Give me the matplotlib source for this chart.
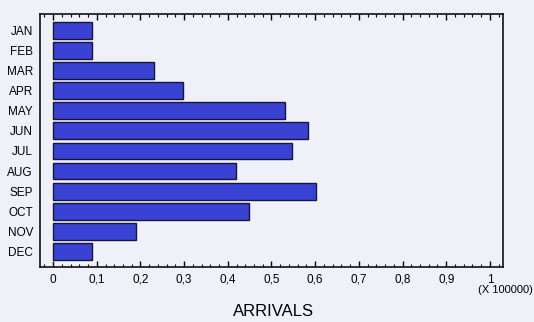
import matplotlib
matplotlib.use("Agg")
import matplotlib.pyplot as plt
from matplotlib.ticker import MultipleLocator, FuncFormatter

months = ["JAN", "FEB", "MAR", "APR", "MAY", "JUN", "JUL", "AUG", "SEP", "OCT", "NOV", "DEC"]
arrivals = [0.089, 0.089, 0.231, 0.297, 0.531, 0.584, 0.548, 0.419, 0.603, 0.449, 0.190, 0.090]
xticks = [0, 0.1, 0.2, 0.3, 0.4, 0.5, 0.6, 0.7, 0.8, 0.9, 1.0]

plt.rcParams['font.family'] = ['Liberation Sans', 'DejaVu Sans']
bg = '#f0f1f8'
fig = plt.figure(figsize=(5.34, 3.22), dpi=100, facecolor=bg)
ax = fig.add_axes([40/534, 1-267/322, 463/534, 253/322], facecolor=bg)

ypos = list(range(len(months)))
ax.barh(ypos, arrivals, height=0.84, color='#3a42d4', edgecolor='#15163a', linewidth=1.0)
ax.set_ylim(11.78, -0.82)
ax.set_xlim(-0.03, 1.03)
ax.set_yticks(ypos)
ax.set_yticklabels(months, fontsize=8.5)
ax.tick_params(axis='y', length=0, pad=5)

ax.set_xticks(xticks)
ax.xaxis.set_major_formatter(FuncFormatter(lambda v, p: ('%g' % round(v, 2)).replace('.', ',')))
ax.xaxis.set_minor_locator(MultipleLocator(0.02))
ax.tick_params(axis='x', which='major', direction='in', length=4, width=1, top=True, labelsize=8.5, pad=5)
ax.tick_params(axis='x', which='minor', direction='in', length=2, width=0.8, top=True)
for s in ax.spines.values():
    s.set_linewidth(1.2)
    s.set_color('#111111')

fig.text(533/534, 1-290/322, '(X 100000)', ha='right', va='center', fontsize=8)
fig.text(273/534, 1-312/322, 'ARRIVALS', ha='center', va='center', fontsize=12)

fig.savefig('out.png', dpi=100, facecolor=bg)
